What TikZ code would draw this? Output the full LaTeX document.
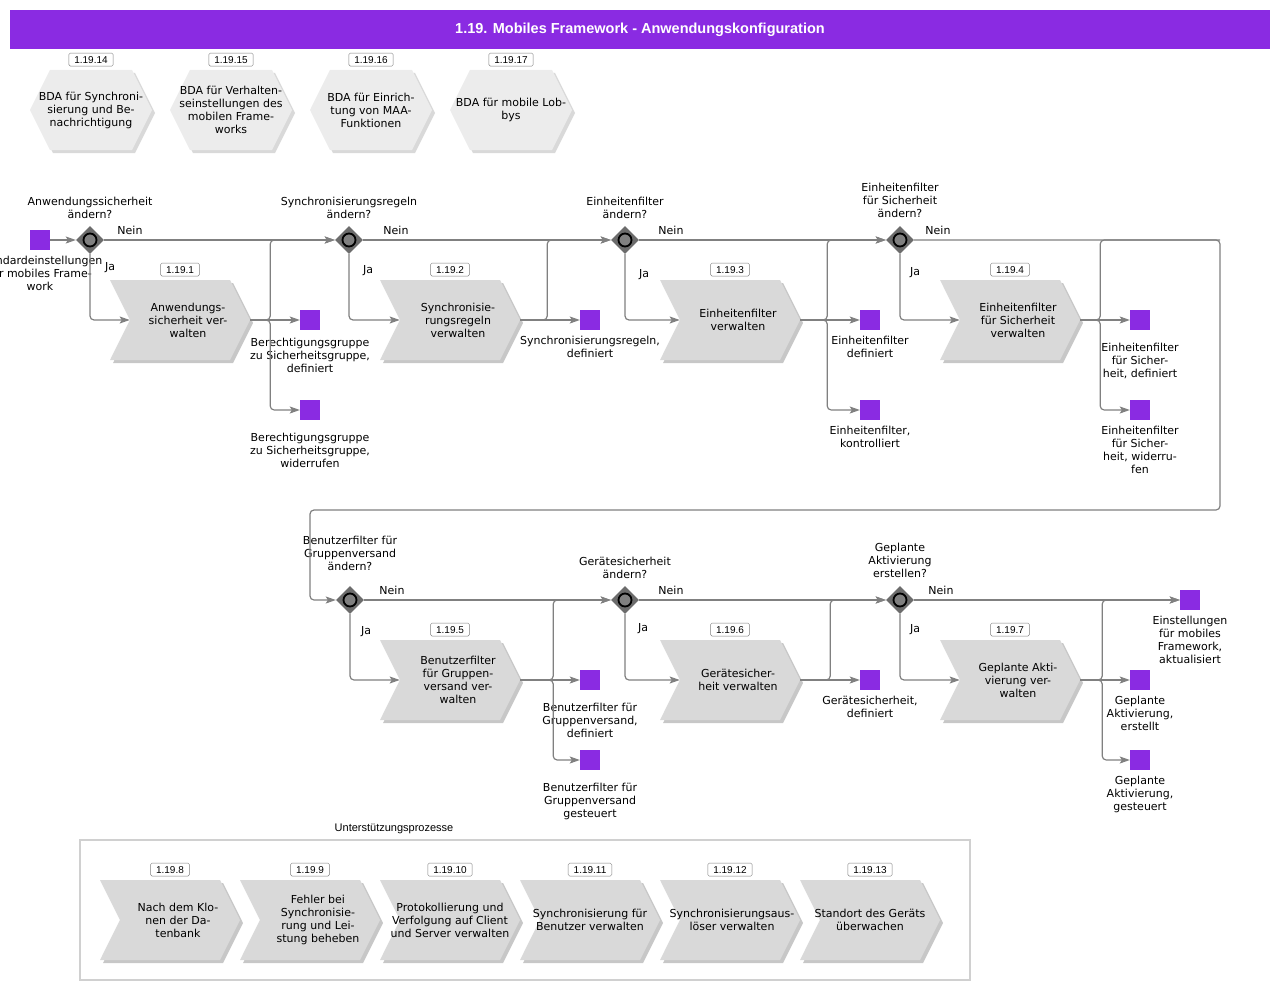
\documentclass[tikz,border=0pt]{standalone}
\usepackage{fontspec}
\setmainfont{DejaVu Sans}
\newfontfamily\arialfont{Liberation Sans}
\usetikzlibrary{shapes.geometric,shapes.symbols,shadows,arrows.meta,positioning}
\definecolor{fwpurple}{RGB}{138,43,226}
\definecolor{flowgray}{RGB}{128,128,128}
\definecolor{taskgray}{RGB}{217,217,217}
\definecolor{hexgray}{RGB}{236,236,236}
\definecolor{gwgray}{RGB}{108,108,108}
\definecolor{framegray}{RGB}{208,208,208}

\begin{document}
\begin{tikzpicture}[x=1pt,y=-1pt,
  every node/.style={inner sep=0pt},
  txt/.style={font=\fontsize{11}{13}\selectfont,align=center},
  task/.style={signal,signal from=west,signal to=east,signal pointer angle=127,
    minimum width=140pt,minimum height=80pt,fill=taskgray,
    drop shadow={shadow xshift=3pt,shadow yshift=-3pt,fill=black!22,opacity=1}},
  hexa/.style={signal,signal to=east and west,signal pointer angle=127,
    minimum width=122pt,minimum height=80pt,fill=hexgray,
    drop shadow={shadow xshift=3pt,shadow yshift=-3pt,fill=black!15,opacity=1}},
  nr/.style={draw=gray,fill=white,rounded corners=1.5pt,
    font=\arialfont\fontsize{10}{11}\selectfont,inner xsep=5.5pt,minimum height=13pt},
  evt/.style={rectangle,fill=fwpurple,minimum size=20pt},
  gw/.style={diamond,fill=gwgray,minimum size=28pt,
    path picture={\draw[black,line width=1.8pt,fill=flowgray]
      (path picture bounding box.center) circle (6.5pt);}},
  flow/.style={draw=flowgray,line width=1.2pt,rounded corners=4pt,
    -{Stealth[length=10pt,width=7pt,inset=2pt]}},
  line/.style={draw=flowgray,line width=1.2pt,rounded corners=4pt}]
\useasboundingbox (0,0) rectangle (1280,990);

\node[fill=fwpurple,minimum width=1260pt,minimum height=39pt,text=white,
  font=\arialfont\bfseries\fontsize{14.5}{16}\selectfont] (header) at (640,29.5)
  {1.19. Mobiles Framework - Anwendungskonfiguration};

\foreach \x/\code/\desc [count=\i] in {
  91/1.19.14/{BDA für Synchroni-\\sierung und Be-\\nachrichtigung},
  231/1.19.15/{BDA für Verhalten-\\seinstellungen des\\mobilen Frame-\\works},
  371/1.19.16/{BDA für Einrich-\\tung von MAA-\\Funktionen},
  511/1.19.17/{BDA für mobile Lob-\\bys}}{
  \node[hexa] (hex\i) at (\x,110) {};
  \node[nr,above=3.5pt of hex\i] (hex\i nr) {\code};
  \node[txt] (hex\i txt) at (hex\i.center) {\desc};
}

% first row
\node[evt] (s0) at (40,240) {};
\node[txt,anchor=north] (s0l) at (40,256) {Standardeinstellungen\\für mobiles Frame-\\work};

\node[gw] (g1) at (90,240) {};
\node[gw] (g2) at (349,240) {};
\node[gw] (g3) at (625,240) {};
\node[gw] (g4) at (900,240) {};
\node[txt,anchor=north] (g1l) at (90,197) {Anwendungssicherheit\\ändern?};
\node[txt,anchor=north] (g2l) at (349,197) {Synchronisierungsregeln\\ändern?};
\node[txt,anchor=north] (g3l) at (625,197) {Einheitenfilter\\ändern?};
\node[txt,anchor=north] (g4l) at (900,183) {Einheitenfilter\\für Sicherheit\\ändern?};
\node[txt] (g1no) at (130,230) {Nein};
\node[txt] (g1yes) at (110,268) {Ja};
\node[txt] (g2no) at (396,230) {Nein};
\node[txt] (g2yes) at (368,271) {Ja};
\node[txt] (g3no) at (671,230) {Nein};
\node[txt] (g3yes) at (644,275) {Ja};
\node[txt] (g4no) at (938,230) {Nein};
\node[txt] (g4yes) at (915,273) {Ja};

\node[task] (t1) at (180,320) {};
\node[task] (t2) at (450,320) {};
\node[task] (t3) at (730,320) {};
\node[task] (t4) at (1010,320) {};
\node[nr,above=3.5pt of t1] (t1nr) {1.19.1};
\node[nr,above=3.5pt of t2] (t2nr) {1.19.2};
\node[nr,above=3.5pt of t3] (t3nr) {1.19.3};
\node[nr,above=3.5pt of t4] (t4nr) {1.19.4};
\node[txt] (t1txt) at ([xshift=8pt]t1.center) {Anwendungs-\\sicherheit ver-\\walten};
\node[txt] (t2txt) at ([xshift=8pt]t2.center) {Synchronisie-\\rungsregeln\\verwalten};
\node[txt] (t3txt) at ([xshift=8pt]t3.center) {Einheitenfilter\\verwalten};
\node[txt] (t4txt) at ([xshift=8pt]t4.center) {Einheitenfilter\\für Sicherheit\\verwalten};

\node[evt] (e1a) at (310,320) {};
\node[evt] (e1b) at (310,410) {};
\node[evt] (e2) at (590,320) {};
\node[evt] (e3a) at (870,320) {};
\node[evt] (e3b) at (870,410) {};
\node[evt] (e4a) at (1140,320) {};
\node[evt] (e4b) at (1140,410) {};
\node[txt,anchor=north] (e1al) at (310,338) {Berechtigungsgruppe\\zu Sicherheitsgruppe,\\definiert};
\node[txt,anchor=north] (e1bl) at (310,433) {Berechtigungsgruppe\\zu Sicherheitsgruppe,\\widerrufen};
\node[txt,anchor=north] (e2l) at (590,336) {Synchronisierungsregeln,\\definiert};
\node[txt,anchor=north] (e3al) at (870,336) {Einheitenfilter\\definiert};
\node[txt,anchor=north] (e3bl) at (870,426) {Einheitenfilter,\\kontrolliert};
\node[txt,anchor=north] (e4al) at (1140,343) {Einheitenfilter\\für Sicher-\\heit, definiert};
\node[txt,anchor=north] (e4bl) at (1140,426) {Einheitenfilter\\für Sicher-\\heit, widerru-\\fen};

\draw[flow] (s0) -- (g1);
\draw[flow] (g1) -- (g2);
\draw[flow] (g1) |- (t1);
\draw[flow] (t1) -- (e1a);
\draw[flow] (t1.east) -- ++(20,0) |- (e1b);
\draw[flow] (t1.east) -- ++(20,0) |- (g2);
\draw[flow] (g2) -- (g3);
\draw[flow] (g2) |- (t2);
\draw[flow] (t2) -- (e2);
\draw[flow] (t2.east) -- ++(27,0) |- (g3);
\draw[flow] (g3) -- (g4);
\draw[flow] (g3) |- (t3);
\draw[flow] (t3) -- (e3a);
\draw[flow] (t3.east) -- ++(27,0) |- (e3b);
\draw[flow] (t3.east) -- ++(27,0) |- (g4);
\draw[flow] (g4) |- (t4);
\draw[flow] (t4) -- (e4a);
\draw[flow] (t4.east) -- ++(20,0) |- (e4b);

% second row
\node[gw] (g5) at (350,600) {};
\node[gw] (g6) at (625,600) {};
\node[gw] (g7) at (900,600) {};
\node[txt,anchor=north] (g5l) at (350,536) {Benutzerfilter für\\Gruppenversand\\ändern?};
\node[txt,anchor=north] (g6l) at (625,557) {Gerätesicherheit\\ändern?};
\node[txt,anchor=north] (g7l) at (900,543) {Geplante\\Aktivierung\\erstellen?};
\node[txt] (g5no) at (392,590) {Nein};
\node[txt] (g5yes) at (366,632) {Ja};
\node[txt] (g6no) at (671,590) {Nein};
\node[txt] (g6yes) at (643,629) {Ja};
\node[txt] (g7no) at (941,590) {Nein};
\node[txt] (g7yes) at (915,630) {Ja};

% turn to second row
\coordinate (turn1) at (1220,240);
\coordinate (turn2) at (310,510);
\draw[line] (t4.east) -- ++(20,0) |- (turn1);
\draw[flow] (g4) -- (turn1) |- (turn2) |- (g5);

\node[task] (t5) at (450,680) {};
\node[task] (t6) at (730,680) {};
\node[task] (t7) at (1010,680) {};
\node[nr,above=3.5pt of t5] (t5nr) {1.19.5};
\node[nr,above=3.5pt of t6] (t6nr) {1.19.6};
\node[nr,above=3.5pt of t7] (t7nr) {1.19.7};
\node[txt] (t5txt) at ([xshift=8pt]t5.center) {Benutzerfilter\\für Gruppen-\\versand ver-\\walten};
\node[txt] (t6txt) at ([xshift=8pt]t6.center) {Gerätesicher-\\heit verwalten};
\node[txt] (t7txt) at ([xshift=8pt]t7.center) {Geplante Akti-\\vierung ver-\\walten};

\node[evt] (e5a) at (590,680) {};
\node[evt] (e5b) at (590,760) {};
\node[evt] (e6) at (870,680) {};
\node[evt] (e7a) at (1140,680) {};
\node[evt] (e7b) at (1140,760) {};
\node[evt] (e8) at (1190,600) {};
\node[txt,anchor=north] (e5al) at (590,703) {Benutzerfilter für\\Gruppenversand,\\definiert};
\node[txt,anchor=north] (e5bl) at (590,783) {Benutzerfilter für\\Gruppenversand\\gesteuert};
\node[txt,anchor=north] (e6l) at (870,696) {Gerätesicherheit,\\definiert};
\node[txt,anchor=north] (e7al) at (1140,696) {Geplante\\Aktivierung,\\erstellt};
\node[txt,anchor=north] (e7bl) at (1140,776) {Geplante\\Aktivierung,\\gesteuert};
\node[txt,anchor=north] (e8l) at (1190,616) {Einstellungen\\für mobiles\\Framework,\\aktualisiert};

\draw[flow] (g5) -- (g6);
\draw[flow] (g5) |- (t5);
\draw[flow] (t5) -- (e5a);
\draw[flow] (t5.east) -- ++(33,0) |- (e5b);
\draw[flow] (t5.east) -- ++(33,0) |- (g6);
\draw[flow] (g6) -- (g7);
\draw[flow] (g6) |- (t6);
\draw[flow] (t6) -- (e6);
\draw[flow] (t6.east) -- ++(30,0) |- (g7);
\draw[flow] (g7) -- (e8);
\draw[flow] (g7) |- (t7);
\draw[flow] (t7) -- (e7a);
\draw[flow] (t7.east) -- ++(22,0) |- (e7b);
\draw[flow] (t7.east) -- ++(22,0) |- (e8);

% support processes
\node[draw=framegray,line width=1.5pt,minimum width=890pt,minimum height=140pt] (support) at (525,910) {};
\node[font=\arialfont\fontsize{11}{13}\selectfont] (supporttitle) at (394,829) {Unterstützungsprozesse};
\foreach \x/\code/\dx/\desc [count=\i] in {
  170/1.19.8/8/{Nach dem Klo-\\nen der Da-\\tenbank},
  310/1.19.9/8/{Fehler bei\\Synchronisie-\\rung und Lei-\\stung beheben},
  450/1.19.10/0/{Protokollierung und\\Verfolgung auf Client\\und Server verwalten},
  590/1.19.11/0/{Synchronisierung für\\Benutzer verwalten},
  730/1.19.12/2/{Synchronisierungsaus-\\löser verwalten},
  870/1.19.13/0/{Standort des Geräts\\überwachen}}{
  \node[task] (sp\i) at (\x,920) {};
  \node[nr,above=3.5pt of sp\i] (sp\i nr) {\code};
  \node[txt] (sp\i txt) at ([xshift=\dx pt]sp\i.center) {\desc};
}
\end{tikzpicture}
\end{document}
